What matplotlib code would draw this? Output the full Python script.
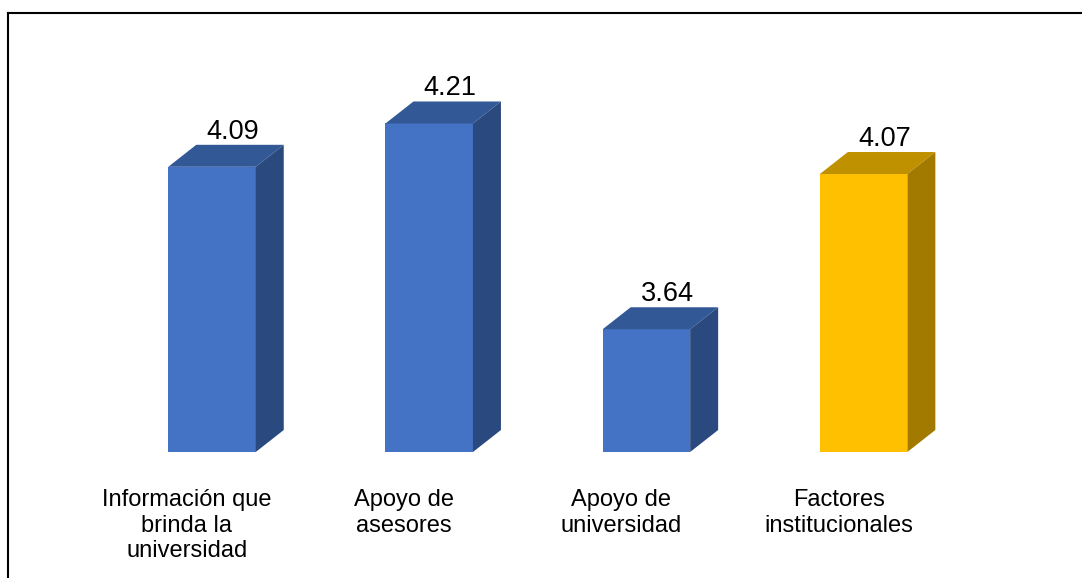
import matplotlib
matplotlib.use("Agg")
import matplotlib.pyplot as plt
from matplotlib.patches import Polygon
from matplotlib.lines import Line2D

categories = ["Información que\nbrinda la\nuniversidad", "Apoyo de\nasesores",
              "Apoyo de\nuniversidad", "Factores\ninstitucionales"]
values = [4.09, 4.21, 3.64, 4.07]
value_labels = ["4.09", "4.21", "3.64", "4.07"]
front_colors = ["#4472C4", "#4472C4", "#4472C4", "#FFC000"]
top_colors = ["#335896", "#335896", "#335896", "#BF9000"]
side_colors = ["#2A497E", "#2A497E", "#2A497E", "#A37A00"]

plt.rcParams['font.family'] = ['Liberation Sans', 'DejaVu Sans']

W, H = 1082, 578
fig = plt.figure(figsize=(W / 100, H / 100), dpi=100)
fig.patch.set_facecolor("white")

# axes: baseline at 452 px from top, top at 50 px from top
ax_bottom_px = H - 452
ax_top_px = H - 50
ax = fig.add_axes([0, ax_bottom_px / H, 1, (ax_top_px - ax_bottom_px) / H])
px_per_unit_y = 361.0
ymin = 3.3
ax.set_ylim(ymin, ymin + (ax_top_px - ax_bottom_px) / px_per_unit_y)
spacing_px = 217.2
first_center_px = 212.0
ax.set_xlim(-first_center_px / spacing_px, (W - first_center_px) / spacing_px)
ax.axis("off")

bar_w = 87.5 / spacing_px
ddx = 28 / spacing_px          # depth in x data units
ddy = 22 / px_per_unit_y       # depth in y data units

xs = list(range(len(values)))
ax.bar(xs, [v - ymin for v in values], bottom=ymin, width=bar_w,
       color=front_colors, linewidth=0, zorder=2)

for x, v, tc, sc in zip(xs, values, top_colors, side_colors):
    l, r = x - bar_w / 2, x + bar_w / 2
    top = Polygon([(l, v), (r, v), (r + ddx, v + ddy), (l + ddx, v + ddy)],
                  closed=True, facecolor=tc, edgecolor="none", zorder=2)
    side = Polygon([(r, ymin), (r + ddx, ymin + ddy), (r + ddx, v + ddy), (r, v)],
                   closed=True, facecolor=sc, edgecolor="none", zorder=2)
    ax.add_patch(top)
    ax.add_patch(side)

for x, v, lab in zip(xs, values, value_labels):
    ax.annotate(lab, xy=(x, v), xytext=(21, 28), textcoords="offset pixels",
                ha="center", va="baseline", fontsize=19.5, color="black")

for x, cat in zip(xs, categories):
    ax.annotate(cat, xy=(x, ymin), xytext=(-25, -37), textcoords="offset pixels",
                ha="center", va="top", multialignment="center",
                fontsize=17, color="black", linespacing=1.22,
                annotation_clip=False)

# outer frame (top and left visible)
fig.add_artist(Line2D([7.5 / W, 1.0], [1 - 13 / H, 1 - 13 / H],
                      transform=fig.transFigure, color="black", lw=1.5))
fig.add_artist(Line2D([7.5 / W, 7.5 / W], [1 - 13 / H, 0.0],
                      transform=fig.transFigure, color="black", lw=1.5))

fig.savefig("out.png", dpi=100, facecolor="white")
